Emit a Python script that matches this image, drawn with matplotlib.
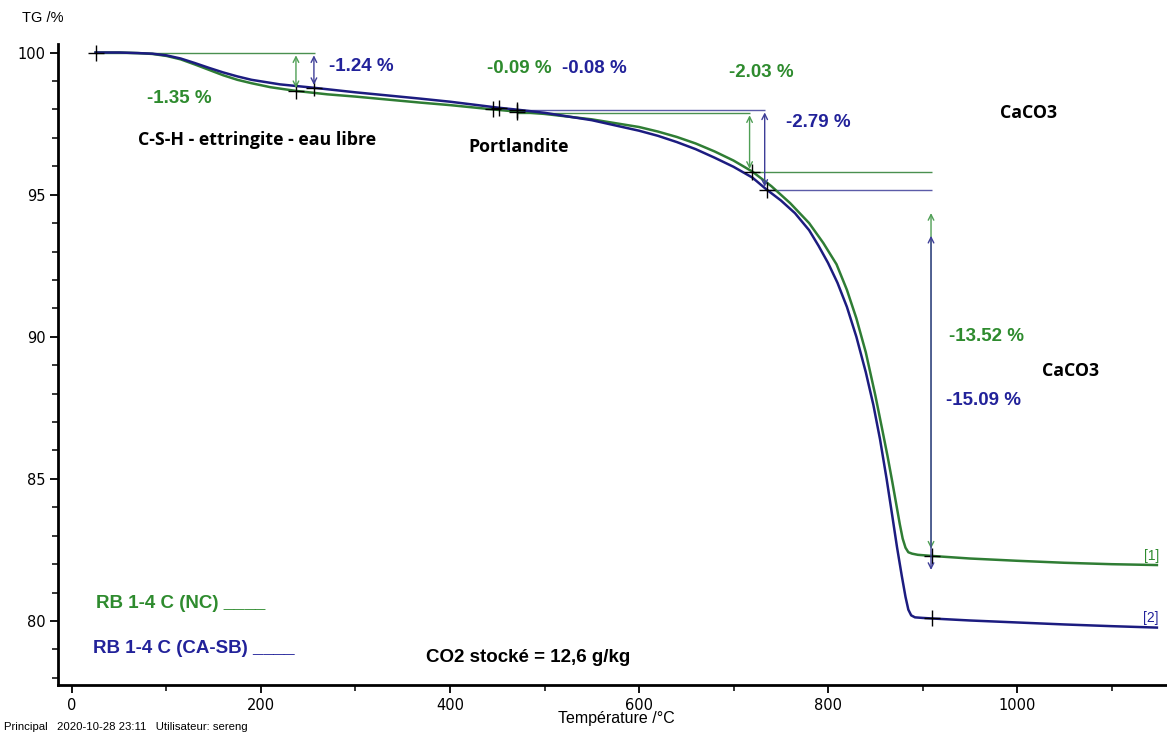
import matplotlib.pyplot as plt
from matplotlib.ticker import MultipleLocator

# TG curves (temperature in degC, mass in %)
temp_nc = [25, 50, 70, 85, 100, 115, 130, 145, 160, 175, 190, 210, 237, 270, 300, 368,
           400, 445, 471, 500, 550, 600, 620, 640, 660, 680, 700, 720, 740, 760, 780,
           795, 809, 820, 830, 840, 850, 857, 863, 868, 872, 876, 879, 882, 885, 889,
           895, 910, 950, 1000, 1050, 1100, 1148]
tg_nc = [100, 100, 99.98, 99.95, 99.88, 99.76, 99.58, 99.39, 99.2, 99.04, 98.92, 98.78,
         98.65, 98.53, 98.45, 98.24, 98.15, 98.0, 97.92, 97.84, 97.65, 97.38, 97.22,
         97.03, 96.8, 96.52, 96.2, 95.81, 95.3, 94.7, 94.0, 93.3, 92.55, 91.65, 90.65,
         89.45, 87.95, 86.8, 85.8, 84.9, 84.15, 83.4, 82.9, 82.58, 82.42, 82.37, 82.33,
         82.29, 82.2, 82.12, 82.05, 82.0, 81.97]

temp_ca = [25, 50, 70, 85, 100, 115, 130, 145, 160, 175, 190, 220, 256, 300, 368, 400,
           451, 471, 500, 550, 600, 620, 640, 660, 680, 700, 720, 735, 750, 765, 780,
           790, 800, 810, 820, 830, 840, 848, 855, 862, 868, 873, 878, 882, 885, 888,
           892, 900, 910, 950, 1000, 1050, 1100, 1148]
tg_ca = [100, 100, 99.98, 99.96, 99.9, 99.79, 99.63, 99.46, 99.3, 99.16, 99.04, 98.88,
         98.76, 98.6, 98.38, 98.27, 98.06, 97.99, 97.88, 97.62, 97.25, 97.07, 96.85,
         96.6, 96.3, 95.98, 95.6, 95.18, 94.8, 94.35, 93.75, 93.2, 92.6, 91.9, 91.05,
         90.0, 88.75, 87.6, 86.4, 85.0, 83.7, 82.6, 81.6, 80.85, 80.4, 80.2, 80.13,
         80.11, 80.09, 80.02, 79.95, 79.88, 79.82, 79.77]

# step markers
marks_nc_t = [25, 237, 445, 471, 720, 910]
marks_nc_v = [100, 98.65, 98.0, 97.92, 95.81, 82.29]
marks_ca_t = [256, 452, 471, 735, 910]
marks_ca_v = [98.76, 98.06, 97.99, 95.18, 80.09]

# reference lines: (level, from, to)
ref_nc = [(100, 25, 257), (97.89, 471, 717), (95.81, 720, 910)]
ref_ca = [(97.99, 471, 733), (95.18, 735, 910)]

# step arrows: (x, top, bottom)
arrows_nc = [(237, 100, 98.65), (717, 97.89, 95.81), (909, 94.45, 82.45)]
arrows_ca = [(256, 100, 98.76), (733, 97.99, 95.18), (909, 93.65, 81.7)]

GREEN = "#2e8b2e"
BLUE = "#22229a"
GREEN_LINE = "#2f7d34"
BLUE_LINE = "#1c1c80"

W, H = 1167, 736
fig = plt.figure(figsize=(W / 100, H / 100), dpi=100)
ax = fig.add_axes([58 / W, 51 / H, 1109 / W, 641 / H])

plt.rcParams["font.family"] = ["Liberation Sans", "DejaVu Sans"]

for lvl, a, b in ref_ca:
    ax.hlines(lvl, a, b, color="#5b5ba8", lw=1)
for lvl, a, b in ref_nc:
    ax.hlines(lvl, a, b, color="#4a9050", lw=1)

for x, top, bot in arrows_nc:
    ax.annotate("", xy=(x, bot), xytext=(x, top),
                arrowprops=dict(arrowstyle="<->", color="#4f9f55", lw=1,
                                shrinkA=2, shrinkB=2, mutation_scale=10))
for x, top, bot in arrows_ca:
    ax.annotate("", xy=(x, bot), xytext=(x, top),
                arrowprops=dict(arrowstyle="<->", color="#3e3e98", lw=1,
                                shrinkA=2, shrinkB=2, mutation_scale=10))

ax.plot(temp_nc, tg_nc, color=GREEN_LINE, lw=1.8)
ax.plot(temp_ca, tg_ca, color=BLUE_LINE, lw=1.8)

ax.plot(marks_nc_t, marks_nc_v, "+", color="k", ms=12, mew=1)
ax.plot(marks_ca_t, marks_ca_v, "+", color="k", ms=12, mew=1)

ax.text(1150, tg_nc[-1] + 0.08, "[1]", color=GREEN, fontsize=10, ha="right", va="bottom")
ax.text(1150, tg_ca[-1] + 0.08, "[2]", color=BLUE, fontsize=10, ha="right", va="bottom")

big = dict(fontsize=13.5, fontweight="bold", ha="center", va="center")
ax.text(114, 98.38, "-1.35 %", color=GREEN, **big)
ax.text(306, 99.51, "-1.24 %", color=BLUE, **big)
ax.text(473, 99.44, "-0.09 %", color=GREEN, **big)
ax.text(553, 99.44, "-0.08 %", color=BLUE, **big)
ax.text(729, 99.3, "-2.03 %", color=GREEN, **big)
ax.text(790, 97.54, "-2.79 %", color=BLUE, **big)
ax.text(968, 90.0, "-13.52 %", color=GREEN, **big)
ax.text(965, 87.75, "-15.09 %", color=BLUE, **big)

lab = dict(fontsize=12.8, fontweight="bold", ha="center", va="center",
           family=["Open Sans", "DejaVu Sans"])
ax.text(196, 96.94, "C-S-H - ettringite - eau libre", **lab)
ax.text(473, 96.69, "Portlandite", **lab)
ax.text(1012, 97.89, "CaCO3", **lab)
ax.text(1057, 88.8, "CaCO3", **lab)

ax.text(25, 80.63, "RB 1-4 C (NC) ____", color=GREEN, fontsize=13.5,
        fontweight="bold", ha="left", va="center")
ax.text(22, 79.05, "RB 1-4 C (CA-SB) ____", color=BLUE, fontsize=13.5,
        fontweight="bold", ha="left", va="center")
ax.text(375, 78.7, "CO2 stocké = 12,6 g/kg", color="k", fontsize=13.5,
        fontweight="bold", ha="left", va="center")

ax.set_xlim(-14.8, 1158.7)
ax.set_ylim(77.75, 100.3)
ax.xaxis.set_major_locator(MultipleLocator(200))
ax.xaxis.set_minor_locator(MultipleLocator(100))
ax.yaxis.set_major_locator(MultipleLocator(5))
ax.yaxis.set_minor_locator(MultipleLocator(1))
ax.tick_params(which="major", direction="out", length=6, width=1.3, labelsize=10.5, pad=3)
ax.tick_params(which="minor", direction="out", length=4, width=1.1)
for s in ("top", "right"):
    ax.spines[s].set_visible(False)
for s in ("left", "bottom"):
    ax.spines[s].set_linewidth(2)

fig.text(22 / W, 1 - 18 / H, "TG /%", fontsize=10.5, va="center")
fig.text(616 / W, 1 - 718 / H, "Température /°C", fontsize=11.5, ha="center", va="center")
fig.text(4 / W, 1 - 727 / H, "Principal   2020-10-28 23:11   Utilisateur: sereng",
         fontsize=8.2, va="center")

fig.savefig("out.png", dpi=100)
